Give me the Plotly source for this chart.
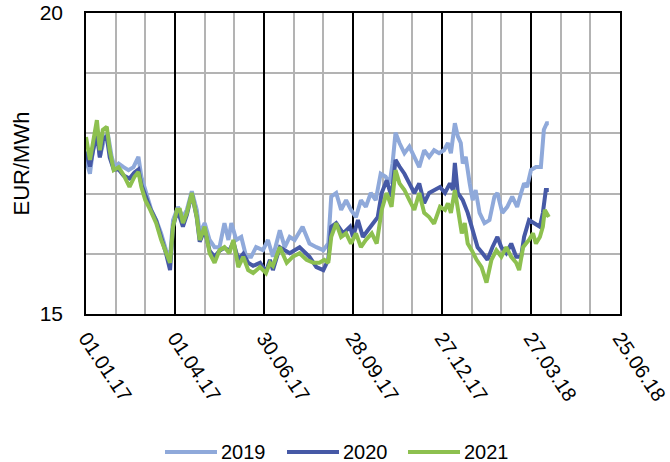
import pandas as pd
import plotly.graph_objs as go

# day offsets from 01.01.17 and prices (EUR/MWh)
start = pd.Timestamp('2017-01-01')

days_2019 = [0, 4, 7, 11, 14, 19, 22, 26, 29, 33, 38, 43, 48, 53, 56, 61, 66, 71, 76, 81,
             85, 88, 93, 98, 102, 107, 112, 115, 120, 125, 130, 135, 140, 144, 147, 152, 157, 162, 167, 172,
             179, 184, 189, 196, 201, 206, 211, 219, 226, 233, 240, 245, 248, 253, 258, 263, 268, 273, 278, 283,
             288, 293, 298, 303, 307, 310, 313, 317, 322, 327, 332, 337, 342, 347, 352, 357, 362, 366, 369, 373,
             376, 379, 381, 384, 388, 391, 394, 398, 403, 408, 413, 416, 421, 426, 431, 436, 440, 443, 446, 450,
             455, 460, 463, 466, 468]
vals_2019 = [17.56, 17.33, 17.72, 18.06, 17.61, 17.94, 18.00, 17.61, 17.44, 17.50, 17.44, 17.39, 17.44, 17.61, 17.28, 17.01, 16.73, 16.56, 16.34, 16.06,
             15.95, 16.56, 16.78, 16.61, 16.73, 17.04, 16.73, 16.34, 16.51, 16.23, 16.11, 16.11, 16.51, 16.23, 16.51, 16.23, 16.28, 15.95, 15.95, 16.11,
             16.06, 16.23, 15.95, 16.39, 16.11, 16.28, 16.23, 16.45, 16.17, 16.11, 16.06, 16.17, 16.95, 17.01, 16.73, 16.89, 16.73, 16.61, 16.89, 16.78,
             17.01, 16.89, 17.33, 17.28, 17.17, 17.50, 18.01, 17.84, 17.67, 17.78, 17.61, 17.44, 17.72, 17.61, 17.72, 17.67, 17.72, 17.84, 17.67, 18.17,
             17.95, 17.84, 17.50, 17.61, 17.17, 16.89, 17.06, 16.68, 16.51, 16.56, 16.95, 17.01, 16.68, 16.78, 16.95, 16.78, 17.01, 17.17, 17.11, 17.39,
             17.44, 17.44, 18.06, 18.17, 18.17]

days_2020 = [0, 4, 7, 11, 14, 17, 21, 24, 28, 33, 38, 44, 49, 53, 56, 60, 65, 71, 76, 81,
             85, 88, 92, 95, 98, 102, 107, 112, 115, 120, 125, 130, 135, 140, 145, 149, 154, 159, 164, 169,
             176, 182, 186, 189, 196, 206, 216, 226, 233, 240, 245, 248, 253, 260, 267, 270, 275, 280, 285, 290,
             295, 299, 304, 309, 313, 317, 322, 327, 332, 337, 342, 347, 353, 358, 363, 368, 371, 373, 376, 381,
             386, 391, 396, 401, 406, 411, 416, 420, 425, 430, 435, 440, 443, 448, 454, 459, 462, 465, 468]
vals_2020 = [17.70, 17.45, 17.70, 18.00, 17.60, 17.90, 17.95, 17.60, 17.40, 17.40, 17.30, 17.25, 17.35, 17.40, 17.15, 16.95, 16.75, 16.55, 16.30, 16.00,
             15.73, 16.45, 16.70, 16.60, 16.45, 16.65, 17.00, 16.60, 16.20, 16.40, 16.05, 15.95, 16.05, 16.10, 16.05, 16.20, 15.90, 16.00, 15.85, 15.80,
             15.85, 15.70, 15.90, 15.73, 16.11, 16.01, 16.11, 15.95, 15.78, 15.73, 15.90, 16.45, 16.51, 16.34, 16.45, 16.28, 16.56, 16.28, 16.39, 16.51,
             16.61, 17.01, 17.22, 16.95, 17.56, 17.45, 17.33, 17.17, 17.01, 17.17, 16.84, 17.01, 17.06, 17.11, 17.01, 17.17, 17.06, 17.51, 17.01, 16.89,
             16.68, 16.39, 16.11, 16.01, 15.90, 16.11, 16.28, 16.11, 16.01, 16.17, 15.95, 15.95, 16.28, 16.56, 16.51, 16.45, 16.68, 17.06, 17.06]

days_2021 = [0, 4, 7, 11, 14, 17, 21, 24, 28, 33, 38, 44, 49, 53, 56, 60, 65, 71, 76, 81,
             85, 88, 92, 95, 98, 102, 107, 112, 115, 120, 125, 130, 135, 140, 145, 149, 154, 159, 164, 169,
             176, 182, 186, 189, 196, 203, 209, 216, 223, 230, 236, 241, 245, 248, 253, 258, 263, 268, 273, 278,
             283, 289, 294, 299, 304, 309, 313, 317, 322, 327, 332, 337, 342, 347, 352, 358, 363, 366, 369, 373,
             376, 380, 383, 386, 390, 395, 400, 405, 410, 415, 420, 425, 430, 435, 438, 442, 445, 448, 452, 455,
             459, 462, 464, 468]
vals_2021 = [17.94, 17.56, 17.84, 18.22, 17.72, 18.06, 18.11, 17.72, 17.39, 17.44, 17.31, 17.11, 17.28, 17.36, 17.11, 16.89, 16.73, 16.51, 16.23, 16.01,
             15.85, 16.45, 16.73, 16.73, 16.51, 16.68, 17.01, 16.61, 16.23, 16.45, 16.01, 15.85, 16.06, 16.11, 16.01, 16.23, 15.78, 15.95, 15.73, 15.68,
             15.78, 15.68, 15.85, 15.80, 16.11, 15.85, 15.95, 16.01, 15.90, 15.85, 15.85, 15.90, 15.85, 16.28, 16.51, 16.28, 16.34, 16.17, 16.34, 16.11,
             16.23, 16.34, 16.17, 16.73, 17.01, 16.78, 17.39, 17.17, 17.06, 16.89, 16.73, 17.01, 16.68, 16.61, 16.50, 16.78, 16.73, 16.84, 16.68, 17.06,
             16.73, 16.34, 16.51, 16.17, 16.06, 15.90, 15.78, 15.52, 15.90, 16.06, 15.95, 16.11, 15.95, 15.85, 15.73, 16.11, 16.17, 16.23, 16.34, 16.17,
             16.28, 16.45, 16.73, 16.61]

tick_dates = ['2017-01-01', '2017-04-01', '2017-06-30', '2017-09-28', '2017-12-27', '2018-03-27', '2018-06-25']

series = [('2019', days_2019, vals_2019, '#8FA9DA'),
          ('2020', days_2020, vals_2020, '#4659A6'),
          ('2021', days_2021, vals_2021, '#8DC04F')]

FONT = 'Liberation Sans, Arial'

W, H = 670, 462
# plot area in pixels
left, right, top, bottom = 86, 620, 13, 314
pw, ph = right - left, bottom - top

data = []
shapes = []
annotations = []
# hand-drawn legend below the chart, Excel style: long line sample then label
legend_x = [165, 287, 408]
legend_y = 452
for (name, days, vals, color), lx in zip(series, legend_x):
    data.append(go.Scatter(
        x=start + pd.to_timedelta(days, unit='D'),
        y=vals,
        name=name,
        mode='lines',
        line=dict(color=color, width=4),
        showlegend=False
    ))
    y_p = (bottom - legend_y) / ph
    shapes.append(dict(type='line', xref='paper', yref='paper',
                       x0=(lx - left) / pw, x1=(lx + 52 - left) / pw, y0=y_p, y1=y_p,
                       line=dict(color=color, width=4)))
    annotations.append(dict(xref='paper', yref='paper', x=(lx + 54 - left) / pw, y=y_p,
                            xanchor='left', yanchor='middle', showarrow=False, text=name,
                            font=dict(family=FONT, size=20, color='#000000')))

layout = go.Layout(
    width=W, height=H,
    margin=dict(l=left, r=W - right, t=top, b=H - bottom),
    paper_bgcolor='white', plot_bgcolor='white',
    font=dict(family=FONT, size=20, color='#000000'),
    showlegend=False,
    shapes=shapes,
    annotations=annotations,
    xaxis=dict(
        type='date',
        range=[tick_dates[0], tick_dates[-1]],
        tickvals=tick_dates,
        tickformat='%d.%m.%y',
        tickangle=56,
        tickfont=dict(family=FONT, size=20),
        ticklabeloverflow='allow',
        automargin=False,
        showgrid=True, gridcolor='#000000', gridwidth=1.5,
        minor=dict(dtick=30 * 86400000, tick0=tick_dates[0], showgrid=True, gridcolor='#b3b3b3', gridwidth=1.5),
        showline=True, linecolor='#000000', linewidth=1.5, mirror=True,
        ticks='outside', ticklen=3, tickcolor='rgba(0,0,0,0)', zeroline=False
    ),
    yaxis=dict(
        range=[15, 20],
        tickvals=[15, 20],
        tickfont=dict(family=FONT, size=21),
        ticklabeloverflow='allow',
        automargin=False,
        showgrid=True, gridcolor='#000000', gridwidth=1.5,
        minor=dict(dtick=1, tick0=15, showgrid=True, gridcolor='#b3b3b3', gridwidth=1.5),
        showline=True, linecolor='#000000', linewidth=1.5, mirror=True,
        ticks='outside', ticklen=17, tickcolor='rgba(0,0,0,0)', zeroline=False,
        title=dict(text='EUR/MWh', font=dict(family=FONT, size=22), standoff=4)
    )
)

fig = go.Figure(data=data, layout=layout)
# drop the default page margin so the figure sits at the window's top-left corner
fig.write_html("out.html", config={'displayModeBar': False},
               post_script="document.body.style.margin = '0';")
